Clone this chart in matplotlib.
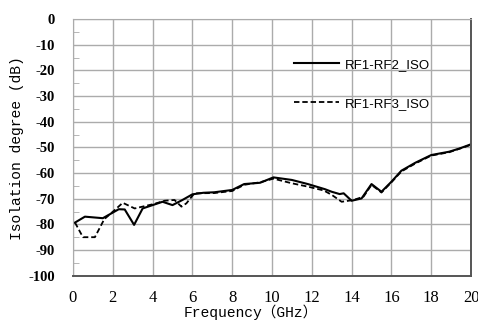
import numpy as np
import matplotlib.pyplot as plt

plt.rcParams['font.family'] = 'serif'
plt.rcParams['font.serif'] = ['Liberation Serif', 'DejaVu Serif']
plt.rcParams['axes.unicode_minus'] = False

serif = ['Liberation Serif', 'DejaVu Serif']
mono = ['Liberation Mono', 'DejaVu Sans Mono', 'Noto Sans CJK SC']

# solid curve RF1-RF2
f_rf2 = [0.1, 0.6, 1.5, 2.3, 2.6, 3.07, 3.5, 4.0, 4.5, 5.0, 5.5, 6.0, 6.55, 7.1, 8.0, 8.6, 9.4, 10.07,
         11.0, 11.8, 12.66, 13.0, 13.4, 13.6, 14.0, 14.5, 15.0, 15.5, 16.0, 16.5, 17.2, 18.0, 18.9, 19.4, 20.0]
iso_rf2 = [-79.3, -77.0, -77.6, -74.1, -74.2, -80.2, -73.8, -72.5, -71.2, -72.5, -70.5, -68.3, -67.7, -67.5,
           -66.6, -64.3, -63.8, -61.7, -62.7, -64.3, -66.3, -67.3, -68.2, -67.9, -70.8, -69.9, -64.3, -67.3,
           -63.4, -59.1, -56.0, -53.0, -51.7, -50.5, -48.8]

# dashed curve RF1-RF3
f_rf3 = [0.1, 0.5, 1.1, 1.57, 2.1, 2.5, 3.1, 3.6, 4.1, 4.6, 5.1, 5.45, 5.7, 6.1, 7.1, 8.0, 8.6, 9.4, 10.07,
         11.0, 11.8, 12.6, 13.0, 13.5, 14.1, 14.6, 15.0, 15.5, 16.0, 16.5, 17.2, 18.0, 18.9, 19.4, 20.0]
iso_rf3 = [-79.3, -85.0, -85.0, -78.0, -74.4, -71.6, -73.8, -72.9, -72.0, -70.8, -70.5, -73.1, -71.8, -67.9,
           -67.8, -67.0, -64.6, -63.6, -62.2, -64.0, -65.3, -66.8, -68.5, -71.2, -70.5, -69.2, -64.6, -67.6,
           -63.6, -59.4, -56.3, -53.2, -51.9, -50.6, -49.0]

xticks = list(range(0, 21, 2))
yticks = list(range(-100, 1, 10))

fig = plt.figure(figsize=(4.78, 3.26), dpi=100)
ax = fig.add_axes([0.1527, 0.1543, 0.8327, 0.7874])

ax.plot(f_rf2, iso_rf2, color='black', lw=1.5, label='RF1-RF2_ISO')
ax.plot(f_rf3, iso_rf3, color='black', lw=1.3, linestyle=(0, (3, 1.6)), label='RF1-RF3_ISO')

ax.set_xlim(0, 20)
ax.set_ylim(-100, 0)
ax.set_xticks(xticks, labels=[str(v) for v in xticks], fontfamily=serif, fontsize=12)
ax.set_yticks(yticks, labels=[str(v) for v in yticks], fontfamily=serif,
              fontweight='bold', fontsize=10.5)
ax.set_yticks(np.arange(-95, 0, 10), minor=True)
ax.grid(True, color='#ababab', lw=1.0)
ax.set_axisbelow(True)

ax.tick_params(axis='x', length=0, pad=10)
ax.tick_params(axis='y', which='major', length=0, pad=13)
ax.tick_params(axis='y', which='minor', length=4, color='#ababab', direction='in')

for s in ['left', 'top']:
    ax.spines[s].set_color('#ababab')
for s in ['bottom', 'right']:
    ax.spines[s].set_color('#555555')
    ax.spines[s].set_linewidth(1.4)

ax.set_xlabel('Frequency（GHz）', family=mono, fontsize=10.5)
ax.xaxis.set_label_coords(0.446, -0.112)
ax.xaxis.label.set_va('top')
ax.set_ylabel('Isolation degree (dB)', family=mono, fontsize=10.5)
ax.yaxis.set_label_coords(-0.141, 0.497)
ax.yaxis.label.set_va('center')

ax.legend(loc='upper left', bbox_to_anchor=(0.555, 0.845), frameon=False, handlelength=3.4,
          labelspacing=2.0, borderpad=0, borderaxespad=0, handletextpad=0.5,
          prop={'family': 'Liberation Sans', 'size': 9.5})

fig.savefig('out.png', dpi=100)
